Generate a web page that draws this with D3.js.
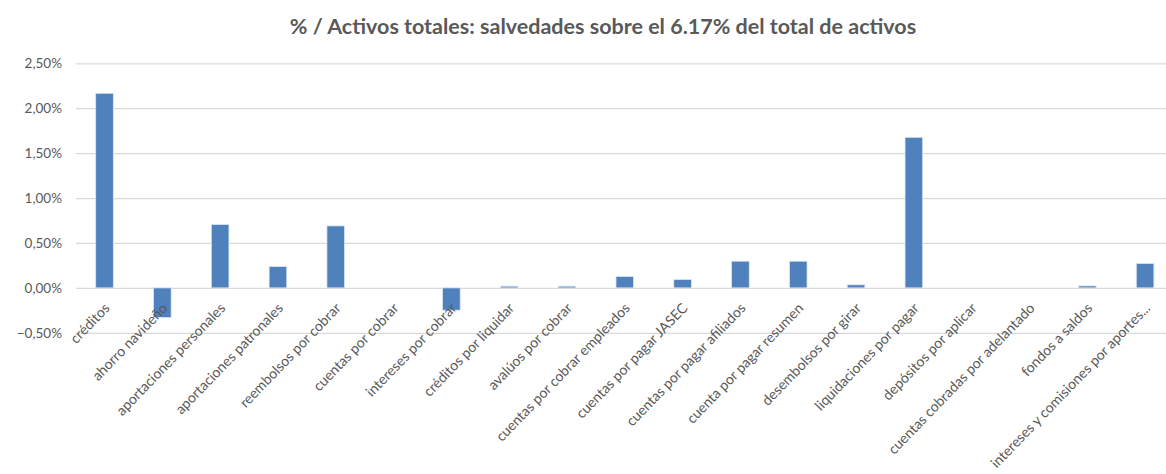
<!DOCTYPE html>
<html><head><meta charset="utf-8">
<script src="https://cdn.jsdelivr.net/npm/d3@7/dist/d3.min.js"></script>
<style>body{margin:0;background:#fff}svg{display:block}</style>
</head><body>
<svg id="c" width="1166" height="474"></svg>
<script>
const categories = ["créditos","ahorro navideño","aportaciones personales","aportaciones patronales","reembolsos por cobrar","cuentas por cobrar","intereses por cobrar","créditos por liquidar","avalúos por cobrar","cuentas por cobrar empleados","cuentas por pagar JASEC","cuentas por pagar afiliados","cuenta por pagar resumen","desembolsos por girar","liquidaciones por pagar","depósitos por aplicar","cuentas cobradas por adelantado","fondos a saldos","intereses y comisiones por aportes..."];
const values = [2.166,-0.33,0.706,0.238,0.69,0,-0.248,0.019,0.019,0.127,0.094,0.297,0.297,0.034,1.676,0,0,0.022,0.272];
const yTicks = [-0.5,0,0.5,1,1.5,2,2.5];
const title = "% / Activos totales: salvedades sobre el 6.17% del total de activos";

const svg = d3.select("#c");
const font = "Lato, 'Open Sans', sans-serif";
const y = d3.scaleLinear().domain([-0.5,2.5]).range([332.8,63.3]);
const x = d3.scaleBand().domain(categories).range([75.6,1174]).paddingInner(0.695).paddingOuter(0.3475);

svg.append("text").attr("x",603).attr("y",34).attr("text-anchor","middle")
  .attr("font-family",font).attr("font-weight","bold").attr("font-size",21.5).attr("fill","#595959").text(title);

const gy = svg.append("g").attr("transform","translate(76,0)")
  .call(d3.axisLeft(y).tickValues(yTicks).tickSize(-1100).tickFormat(d=>d3.format(".2f")(d).replace(".",",")+"%"));
gy.select(".domain").remove();
gy.selectAll(".tick line").attr("stroke","#d9d9d9").attr("stroke-width",1.3);
gy.selectAll(".tick text").attr("x",-14).attr("font-family",font).attr("font-size",13.5).attr("fill","#595959");

svg.append("g").selectAll("rect").data(values).join("rect")
  .attr("x",(d,i)=>x(categories[i]))
  .attr("width",x.bandwidth())
  .attr("y",d=>y(Math.max(0,d)))
  .attr("height",d=>Math.abs(y(d)-y(0)))
  .attr("fill","#4f81bd").attr("stroke","#dce6f2").attr("stroke-width",0.8);

svg.append("g").selectAll("text").data(categories).join("text")
  .attr("transform",d=>`translate(${x(d)+x.bandwidth()/2+6},${y(0)+21}) rotate(-46)`)
  .attr("text-anchor","end")
  .attr("font-family",font).attr("font-size",14.1).attr("fill","#595959").text(d=>d);
</script>
</body></html>
